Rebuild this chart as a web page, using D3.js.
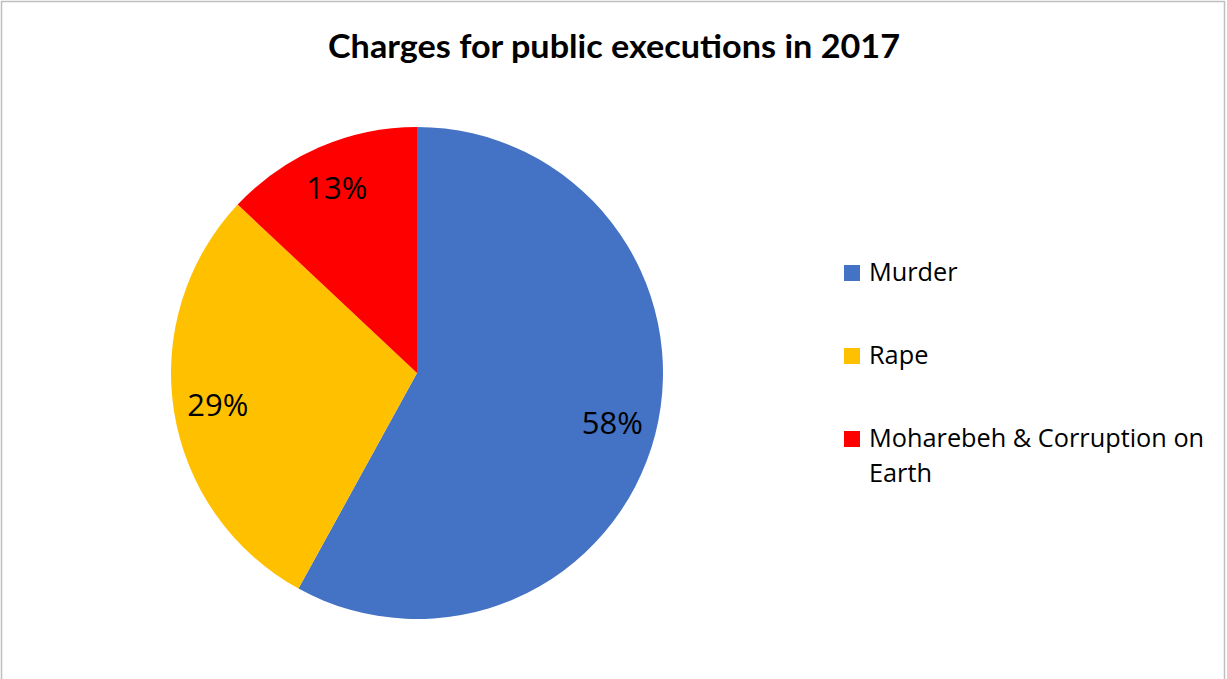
<!DOCTYPE html>
<html lang="en">
<head>
<meta charset="utf-8"/>
<title>Charges for public executions in 2017</title>
<script src="https://d3js.org/d3.v7.min.js"></script>
<style>
    html, body { margin: 0; padding: 0; background: #fff; }
    svg { display: block; }
</style>
</head>
<body>
<svg id="chart"></svg>
<script>
    const categories = ["Murder", "Rape", "Moharebeh & Corruption on Earth"];
    const values = [58, 29, 13];
    const colors = ["#4472c4", "#ffc000", "#ff0000"];
    const legendLines = [["Murder"], ["Rape"], ["Moharebeh & Corruption on", "Earth"]];

    const width = 1227, height = 679;
    const svg = d3.select("#chart").attr("width", width).attr("height", height);

    // chart frame
    svg.append("rect")
        .attr("x", 1.5).attr("y", 1.5)
        .attr("width", 1223).attr("height", 720)
        .attr("fill", "none").attr("stroke", "#bfbfbf").attr("stroke-width", 1.5);

    // title
    const title = svg.append("text")
        .attr("x", 614).attr("y", 58)
        .attr("text-anchor", "middle")
        .style("font-family", "Lato, 'Open Sans', sans-serif")
        .style("font-weight", "bold")
        .style("font-size", "33px")
        .attr("fill", "#000")
        .text("Charges for public executions in 2017");
    const tw = title.node().getComputedTextLength();
    if (Math.abs(tw - 572) > 4) title.attr("textLength", 572).attr("lengthAdjust", "spacingAndGlyphs");

    // pie
    const cx = 417, cy = 373, r = 246;
    const data = categories.map((c, i) => ({name: c, value: values[i], color: colors[i]}));
    const pie = d3.pie().sort(null).value(d => d.value);
    const arc = d3.arc().innerRadius(0).outerRadius(r);
    const labelArc = d3.arc().innerRadius(r * 0.82).outerRadius(r * 0.82);

    const g = svg.append("g").attr("transform", `translate(${cx},${cy})`);
    const arcs = pie(data);
    g.selectAll("path.slice")
        .data(arcs)
        .enter()
        .append("path")
        .attr("class", "slice")
        .attr("d", arc)
        .attr("fill", d => d.data.color);

    g.selectAll("text.pct")
        .data(arcs)
        .enter()
        .append("text")
        .attr("class", "pct")
        .attr("transform", d => `translate(${labelArc.centroid(d)})`)
        .attr("text-anchor", "middle")
        .attr("dy", "0.36em")
        .style("font-family", "'Open Sans', sans-serif")
        .style("font-size", "31px")
        .attr("fill", "#000")
        .text(d => d3.format(".0%")(d.data.value / d3.sum(values)));

    // legend
    const legend = svg.append("g").attr("transform", "translate(844,0)");
    const rowY = d3.scalePoint().domain(categories).range([281, 447]);
    const lg = legend.selectAll("g.item")
        .data(data)
        .enter()
        .append("g")
        .attr("class", "item")
        .attr("transform", d => `translate(0,${rowY(d.name)})`);
    lg.append("rect")
        .attr("x", 0).attr("y", -16)
        .attr("width", 16).attr("height", 16)
        .attr("fill", d => d.color);
    lg.append("text")
        .attr("x", 25).attr("y", 0)
        .style("font-family", "'Open Sans', sans-serif")
        .style("font-size", "25.3px")
        .attr("fill", "#000")
        .each(function(d, i) {
            d3.select(this).selectAll("tspan")
                .data(legendLines[i])
                .enter()
                .append("tspan")
                .attr("x", 25)
                .attr("dy", (t, j) => j === 0 ? 0 : 35)
                .text(t => t);
        });
</script>
</body>
</html>
